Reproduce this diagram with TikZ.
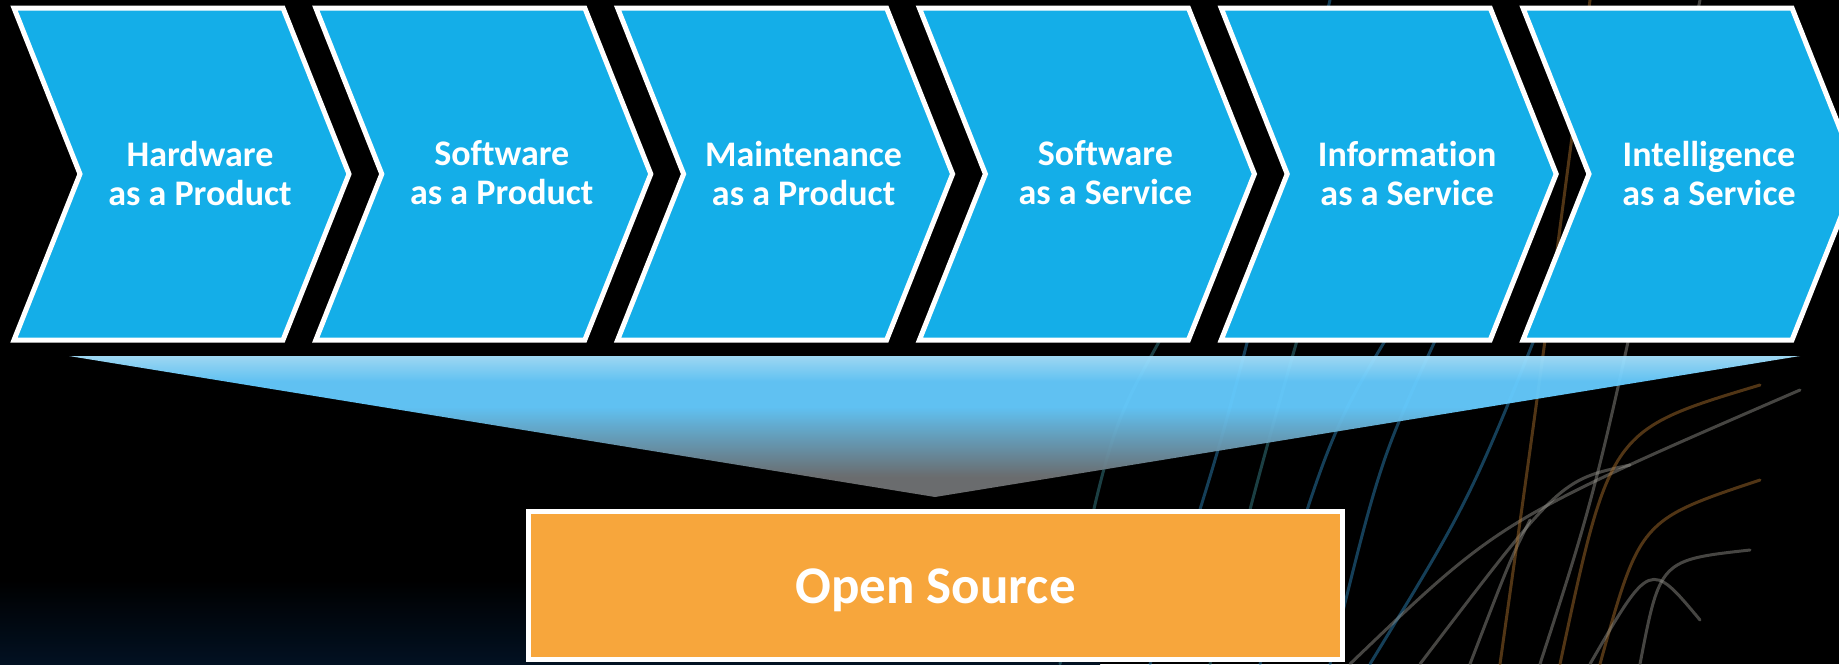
\documentclass[tikz,border=0pt]{standalone}
\usepackage{fontspec}
\setmainfont{Carlito}[Ligatures=NoCommon]
\usepackage{tikz}
\usetikzlibrary{calc}
\usetikzlibrary{backgrounds}
\definecolor{chevblue}{HTML}{14AEE8}
\definecolor{osorange}{HTML}{F7A63C}
\definecolor{funnellight}{HTML}{A6E3FF}
\definecolor{funnelsky}{HTML}{66CCFF}
\definecolor{funnelgrey}{HTML}{707274}
\definecolor{strandblue}{HTML}{2F8CC4}
\definecolor{strandteal}{HTML}{3D8C96}
\definecolor{strandgrey}{HTML}{9C9B94}
\definecolor{strandorange}{HTML}{B5772F}
\definecolor{nightblue}{HTML}{021122}

\pgfdeclareverticalshading{funnelshade}{100bp}{color(0bp)=(funnelgrey); color(32bp)=(funnelgrey); color(57bp)=(funnelsky); color(66bp)=(funnelsky); color(75bp)=(funnellight); color(100bp)=(funnellight)}

\tikzset{
  chevron/.style={fill=chevblue, draw=white, line width=5pt, line join=miter},
  chevtext/.style={text=white, font=\bfseries\fontsize{36}{39}\selectfont, align=center},
  strand/.style={line width=3pt, line cap=round, opacity=0.45},
  osbox/.style={fill=osorange, draw=white, line width=5pt, minimum width=814pt, minimum height=148pt,
    text=white, text depth=0pt, font=\bfseries\fontsize{53}{60}\selectfont}
}

\begin{document}
\begin{tikzpicture}[x=1pt,y=-1pt]
  \fill[black] (0,0) rectangle (1839,664);
  \useasboundingbox (0,0) rectangle (1839,664);
  %% dark glow along the bottom
  \shade[top color=black, bottom color=nightblue] (0,580) rectangle (1100,664);
  %% fibre strands on the right
  \foreach \xa/\xm/\ym/\xb/\yb/\col in {
      1150/1230/420/1330/0/strandblue, 1210/1260/470/1300/330/strandteal,
      1260/1330/430/1410/300/strandblue, 1330/1380/460/1440/330/strandblue,
      1370/1470/500/1550/300/strandblue, 1420/1560/480/1630/465/strandgrey,
      1350/1500/520/1800/390/strandgrey, 1470/1510/560/1530/520/strandgrey,
      1540/1600/480/1700/0/strandgrey, 1560/1610/430/1760/385/strandorange,
      1600/1640/520/1760/480/strandorange, 1640/1660/560/1750/550/strandgrey,
      1590/1650/560/1700/620/strandgrey, 1500/1540/380/1590/0/strandorange,
      1060/1110/430/1160/340/strandteal}
    \draw[strand, \col] (\xa,664) .. controls (\xm,\ym) .. (\xb,\yb);
  %% funnel
  \shade[shading=funnelshade, opacity=0.95] (69,356) -- (1800,356) -- (935,497) -- cycle;
  %% chevrons
  \foreach \i/\txt in {0/{Hardware\\as a Product}, 1/{Software\\as a Product},
      2/{Maintenance\\as a Product}, 3/{Software\\as a Service},
      4/{Information\\as a Service}, 5/{Intelligence\\as a Service}} {
    \pgfmathsetmacro{\L}{14+301.8*\i}
    \draw[chevron] (\L,8) -- ++(269,0) -- ++(66,166) -- ++(-66,166) -- ++(-269,0) -- ++(66,-166) -- cycle;
    \node[chevtext] (phase\i) at (\L+186,173) {\txt};
  }
  %% open source box
  \node[osbox] (opensrc) at (935.5,585.75) {Open Source};
\end{tikzpicture}
\end{document}
